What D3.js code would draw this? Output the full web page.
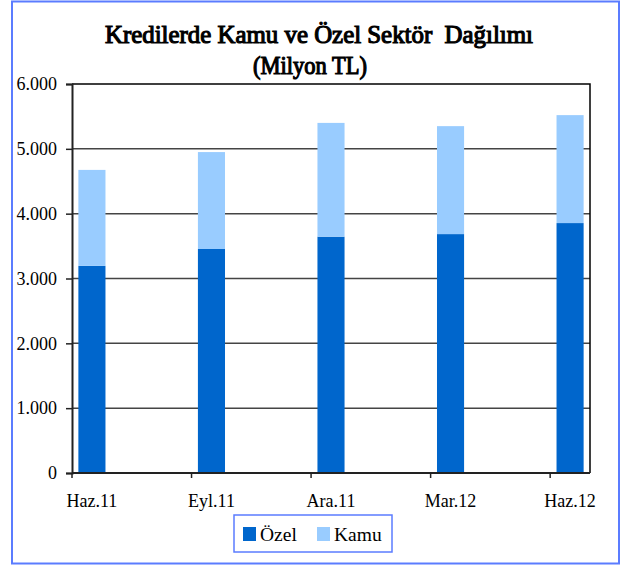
<!DOCTYPE html>
<html>
<head>
<meta charset="utf-8">
<script src="https://cdn.jsdelivr.net/npm/d3@7"></script>
<style>
  body { margin: 0; background: #fff; }
  svg text { font-family: 'Liberation Serif', 'Times New Roman', serif; fill: #000; }
</style>
</head>
<body>
<svg id="chart" width="622" height="565"></svg>
<script>
  // data (Milyon TL)
  const categories = ['Haz.11', 'Eyl.11', 'Ara.11', 'Mar.12', 'Haz.12'];
  const periods = ['2011-06', '2011-09', '2011-12', '2012-03', '2012-06'];
  const ozel = [3195, 3455, 3645, 3685, 3855];
  const kamu = [1480, 1495, 1755, 1665, 1665];
  const yTicks = [0, 1000, 2000, 3000, 4000, 5000, 6000];
  const seriesNames = ['Özel', 'Kamu'];
  const seriesColors = ['#0066cc', '#99ccff'];

  const svg = d3.select('#chart');
  const margin = { top: 84, right: 32, bottom: 92, left: 72 };
  const width = 622 - margin.left - margin.right;
  const height = 565 - margin.top - margin.bottom;

  const trLocale = d3.formatLocale({ decimal: ',', thousands: '.', grouping: [3], currency: ['', ' TL'] });
  const fmt = trLocale.format(',d');

  // outer frame
  svg.append('rect')
    .attr('x', 12).attr('y', 1.5)
    .attr('width', 607).attr('height', 562)
    .attr('fill', '#fff')
    .attr('stroke', '#5b7cff')
    .attr('stroke-width', 2);

  // title (regular serif face thickened with a stroke, the bold face falls back to sans)
  const title = svg.append('g')
    .attr('font-size', 25)
    .attr('text-anchor', 'middle')
    .attr('stroke', '#000')
    .attr('stroke-width', 1.15);
  title.append('text').attr('x', 319).attr('y', 43)
    .attr('textLength', 428).attr('lengthAdjust', 'spacingAndGlyphs')
    .style('white-space', 'pre')
    .text('Kredilerde Kamu ve Özel Sektör  Dağılımı');
  title.append('text').attr('x', 310).attr('y', 74)
    .attr('textLength', 114).attr('lengthAdjust', 'spacingAndGlyphs')
    .text('(Milyon TL)');

  // monthly slots (date axis) from first to last period
  const parse = d3.utcParse('%Y-%m');
  const dates = periods.map(parse);
  const months = d3.utcMonth.range(dates[0], d3.utcMonth.offset(dates[dates.length - 1], 1));
  const monthKey = d3.utcFormat('%Y-%m');

  const x = d3.scaleBand()
    .domain(months.map(monthKey))
    .range([0, width])
    .paddingInner(0).paddingOuter(0);

  const y = d3.scaleLinear().domain([0, 6000]).range([height, 0]);

  const g = svg.append('g').attr('transform', `translate(${margin.left},${margin.top})`);

  // gridlines
  g.append('g')
    .selectAll('line')
    .data(yTicks.filter(d => d > 0 && d < 6000))
    .enter()
    .append('line')
    .attr('x1', 0).attr('x2', width)
    .attr('y1', d => y(d)).attr('y2', d => y(d))
    .attr('stroke', '#444')
    .attr('stroke-width', 1.5);

  // plot border top / right
  g.append('path')
    .attr('d', `M0,${y(6000)}H${width}V${height}`)
    .attr('fill', 'none')
    .attr('stroke', '#000')
    .attr('stroke-width', 1.5);

  // stacked bars
  const rows = categories.map((c, i) => ({ cat: c, key: periods[i], 'Özel': ozel[i], 'Kamu': kamu[i] }));
  const stack = d3.stack().keys(seriesNames)(rows);
  const color = d3.scaleOrdinal().domain(seriesNames).range(seriesColors);
  const barW = x.bandwidth() * 0.68;

  g.append('g')
    .selectAll('g')
    .data(stack)
    .enter()
    .append('g')
    .attr('fill', d => color(d.key))
    .selectAll('rect')
    .data(d => d)
    .enter()
    .append('rect')
    .attr('x', d => x(d.data.key) + (x.bandwidth() - barW) / 2)
    .attr('width', barW)
    .attr('y', d => y(d[1]))
    .attr('height', d => y(d[0]) - y(d[1]));

  // y axis
  const yAxis = g.append('g')
    .call(d3.axisLeft(y).tickValues(yTicks).tickFormat(fmt).tickSize(6).tickPadding(9));
  yAxis.select('.domain').attr('stroke', '#222').attr('stroke-width', 2);
  yAxis.selectAll('.tick line').attr('stroke', '#222').attr('stroke-width', 1.5);
  yAxis.selectAll('.tick text')
    .attr('font-size', 18)
    .attr('font-family', "'Liberation Serif', 'Times New Roman', serif");

  // x axis: ticks at period start, labels centred on the month slot
  const xAxis = g.append('g').attr('transform', `translate(0,${height})`);
  xAxis.append('line')
    .attr('x1', 0).attr('x2', width)
    .attr('stroke', '#222').attr('stroke-width', 2);
  const xt = xAxis.selectAll('.xtick')
    .data(rows)
    .enter()
    .append('g')
    .attr('class', 'xtick');
  xt.append('line')
    .attr('x1', d => x(d.key)).attr('x2', d => x(d.key))
    .attr('y1', 0).attr('y2', 5)
    .attr('stroke', '#222').attr('stroke-width', 1.5);
  xt.append('text')
    .attr('x', d => x(d.key) + x.bandwidth() / 2)
    .attr('y', 34)
    .attr('text-anchor', 'middle')
    .attr('font-size', 18)
    .text(d => d.cat);

  // legend
  const legend = svg.append('g').attr('transform', 'translate(234,515)');
  legend.append('rect')
    .attr('width', 158).attr('height', 37)
    .attr('fill', '#fff')
    .attr('stroke', '#5b7cff')
    .attr('stroke-width', 1.5);
  const li = legend.selectAll('.li')
    .data(seriesNames)
    .enter()
    .append('g')
    .attr('class', 'li')
    .attr('transform', (d, i) => `translate(${9 + i * 74},12)`);
  li.append('rect')
    .attr('width', 13).attr('height', 14)
    .attr('fill', d => color(d));
  li.append('text')
    .attr('x', 17).attr('y', 14)
    .attr('font-size', 19.5)
    .text(d => d);
</script>
</body>
</html>
